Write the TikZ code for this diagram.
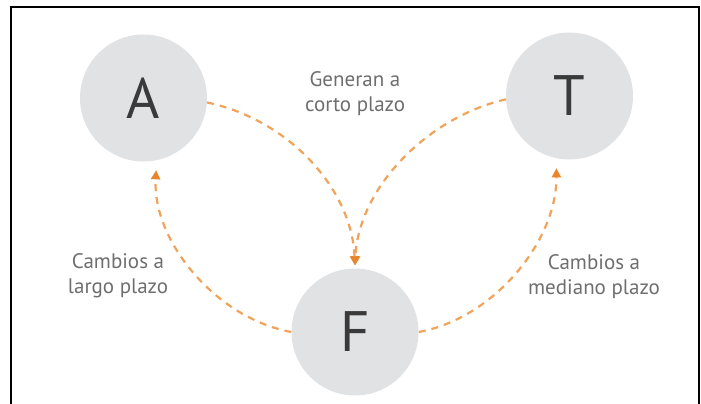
\documentclass[tikz,border=0pt]{standalone}
\usepackage{fontspec}
\setmainfont{PT Sans}
\usetikzlibrary{arrows.meta}
\definecolor{circfill}{HTML}{E1E2E4}
\definecolor{lettercol}{HTML}{3A3A3A}
\definecolor{labelcol}{HTML}{6E6E6E}
\definecolor{dashcol}{HTML}{F0A359}
\definecolor{headcol}{HTML}{E8842A}
\tikzset{
  bubble/.style={circle, fill=circfill, draw=none, minimum size=127pt, inner sep=0pt,
    text=lettercol, font=\fontsize{57}{57}\selectfont},
  lbl/.style={align=center, text=labelcol, font=\fontsize{21}{25}\selectfont, inner sep=0pt},
  arr/.style={draw=dashcol, line width=2.2pt, dash pattern=on 7pt off 6pt,
    -{Triangle[length=9pt,width=9pt,color=headcol,fill=headcol]}},
  frameline/.style={draw=black, line width=2pt}
}
\begin{document}
\begin{tikzpicture}[x=1pt,y=-1pt]
\useasboundingbox (0,0) rectangle (701,404);
\draw[frameline] (11,404) -- (11,7) -- (699,7) -- (699,404);
\node[bubble] (A) at (143.5,98) {A};
\node[bubble] (T) at (569.5,96) {T};
\node[bubble] (F) at (355,332) {F};
\node[lbl] (l1) at (355,94) {Generan a\\corto plazo};
\node[lbl] (l2) at (118,276) {Cambios a\\largo plazo};
\node[lbl] (l3) at (594,277) {Cambios a\\mediano plazo};
\draw[arr, shorten >=3pt] (A.-4) .. controls (290,120) and (352,190) .. (F.north);
\draw[arr, shorten >=3pt] (T.183) .. controls (425,118) and (358,190) .. (F.north);
\draw[arr, shorten >=10pt] (F.west) .. controls (215,318) and (152,240) .. (A.-78);
\draw[arr, shorten >=10pt] (F.east) .. controls (495,318) and (557,240) .. (T.-102);
\end{tikzpicture}
\end{document}
